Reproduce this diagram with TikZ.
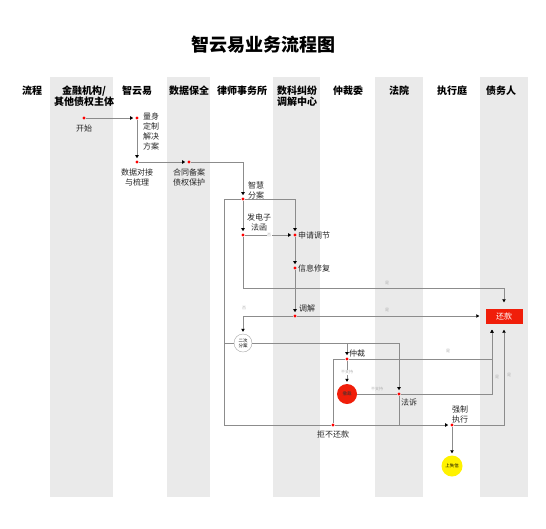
\documentclass[tikz,border=0pt]{standalone}
\usepackage{fontspec}
\setmainfont{Noto Sans CJK SC}
\usetikzlibrary{arrows.meta}
\definecolor{hot}{HTML}{F01E0A}
\definecolor{lanegray}{HTML}{EAEAEA}

\tikzset{
  lane/.style={fill=lanegray, draw=none},
  head/.style={font=\bfseries\fontsize{10}{11}\selectfont, align=center, anchor=north, inner sep=1pt},
  dot/.style={circle, fill=red, inner sep=0pt, minimum size=3.2pt},
  lbl/.style={font=\fontsize{8}{10}\selectfont, text=black!85, inner sep=1pt},
  tag/.style={font=\fontsize{4}{4}\selectfont, text=black!30, inner sep=0.5pt},
  flow/.style={draw=black!45, line width=0.8pt},
  go/.style={flow, -{Triangle[length=3pt,width=3.4pt,black]}, shorten >=2pt},
  gobox/.style={go, shorten >=6pt},
}

\begin{document}
\begin{tikzpicture}[x=1pt, y=-1pt]
    \useasboundingbox (0,0) rectangle (546,528);

    % Title
    \node[font=\bfseries\fontsize{18}{20}\selectfont] (title) at (263,45) {智云易业务流程图};

    % Swim lanes
    \foreach \a/\b in {50/113,167/210,273/320,375/423,480/528}
        \fill[lane] (\a,77) rectangle (\b,497);

    % Lane headers
    \node[head] (hFlow) at (32,85) {流程};
    \node[head] (hBank) at (84,85) {金融机构/\\其他债权主体};
    \node[head] (hZyy) at (137,85) {智云易};
    \node[head] (hSafe) at (189,85) {数据保全};
    \node[head] (hLaw) at (242,85) {律师事务所};
    \node[head] (hCenter) at (297,85) {数科纠纷\\调解中心};
    \node[head] (hArb) at (348,85) {仲裁委};
    \node[head] (hCourt) at (399,85) {法院};
    \node[head] (hExec) at (452,85) {执行庭};
    \node[head] (hDebtor) at (501,85) {债务人};

    % Steps
    \node[dot] (start) at (84,118) {};
    \node[lbl] (tStart) at (84,128) {开始};
    \node[dot] (plan) at (137,118) {};
    \node[lbl, anchor=north west, align=left] (tPlan) at (142,112) {量身\\定制\\解决\\方案};
    \node[dot] (data) at (137,162) {};
    \node[lbl, align=center] (tData) at (137,177) {数据对接\\与梳理};
    \node[dot] (notary) at (189,162) {};
    \node[lbl, align=center] (tNotary) at (189,177) {合同备案\\债权保护};
    \node[dot] (assign) at (243,199) {};
    \node[lbl, align=center] (tAssign) at (256,190) {智慧\\分案};
    \node[dot] (letter) at (243,235) {};
    \node[lbl, align=center] (tLetter) at (259,222) {发电子\\法函};
    \node[dot] (apply) at (295,235) {};
    \node[lbl, anchor=west] (tApply) at (297,235) {申请调节};
    \node[dot] (repair) at (295,268) {};
    \node[lbl, anchor=west] (tRepair) at (297,268) {信息修复};
    \node[dot] (mediate) at (295,316) {};
    \node[lbl, anchor=west] (tMediate) at (298,308) {调解};
    \node[circle, draw=black!35, fill=white, minimum size=18pt, inner sep=0pt,
          font=\fontsize{4.5}{5}\selectfont, align=center] (second) at (243,343) {二次\\分案};
    \node[dot] (arb) at (347,359) {};
    \node[lbl, anchor=west] (tArb) at (348,353) {仲裁};
    \node[circle, fill=hot, minimum size=20pt, inner sep=0pt,
          font=\fontsize{4.5}{5}\selectfont, text=black!80] (revoke) at (347,394) {撤裁};
    \node[dot] (sue) at (399,394) {};
    \node[lbl] (tSue) at (409,402) {法诉};
    \node[dot] (refuse) at (333,425) {};
    \node[lbl] (tRefuse) at (333,434) {拒不还款};
    \node[dot] (enforce) at (452,425) {};
    \node[lbl, align=center] (tEnforce) at (460,414) {强制\\执行};
    \node[circle, fill=yellow, minimum size=21pt, inner sep=0pt,
          font=\fontsize{4.5}{5}\selectfont] (credit) at (452,466) {上失信};
    \node[fill=hot, text=white, minimum width=37pt, minimum height=15pt, inner sep=0pt,
          font=\fontsize{8}{9}\selectfont] (repay) at (504,316) {还款};

    % Corners
    \coordinate (cLeft) at (224,425);
    \coordinate (cSecL) at (224,343);
    \coordinate (cSecR) at (399,343);
    \coordinate (cArbT) at (347,343);
    \coordinate (cHigh) at (504,288);

    % Connectors
    \draw[go] (start) -- (plan);
    \draw[go] (plan) -- (data);
    \draw[go] (data) -- (notary);
    \draw[go] (notary) -| (assign);
    \draw[go] (assign) -- (letter);
    \draw[go] (assign) -| (apply);
    \draw[flow] (assign) -| (cLeft) -- (refuse);
    \draw[go] (letter) -- node[tag, fill=white] {否} (apply);
    \draw[flow] (letter) |- (cHigh);
    \draw[gobox] (cHigh) -- (repay.north);
    \draw[go] (apply) -- (repair);
    \draw[go] (repair) -- (mediate);
    \draw[gobox] (mediate) -- (repay);
    \draw[go] (mediate) -| (second);
    \draw[flow] (cSecL) -- (second);
    \draw[flow] (second) -- (cSecR);
    \draw[go] (cSecR) -- (sue);
    \draw[go] (cArbT) -- (arb);
    \draw[go] (arb) -- node[tag, fill=white] {不支持} (revoke);
    \draw[flow] (arb) -| (refuse);
    \draw[gobox] (arb) -| ([xshift=-12pt]repay.south);
    \draw[flow] (revoke) -- (sue);
    \draw[gobox] (sue) -| ([xshift=-12pt]repay.south);
    \draw[flow] (sue) -- (sue |- refuse);
    \draw[go] (refuse) -- (enforce);
    \draw[gobox] (enforce) -| (repay.south);
    \draw[go] (enforce) -- (credit);

    % Small branch tags
    \node[tag] (yA) at (387,283) {是};
    \node[tag] (yB) at (387,310) {是};
    \node[tag] (nA) at (244,308) {否};
    \node[tag] (yC) at (448,351) {是};
    \node[tag] (nB) at (377,389) {不支持};
    \node[tag] (yD) at (497,377) {是};
    \node[tag] (yE) at (509,375) {是};
\end{tikzpicture}
\end{document}
